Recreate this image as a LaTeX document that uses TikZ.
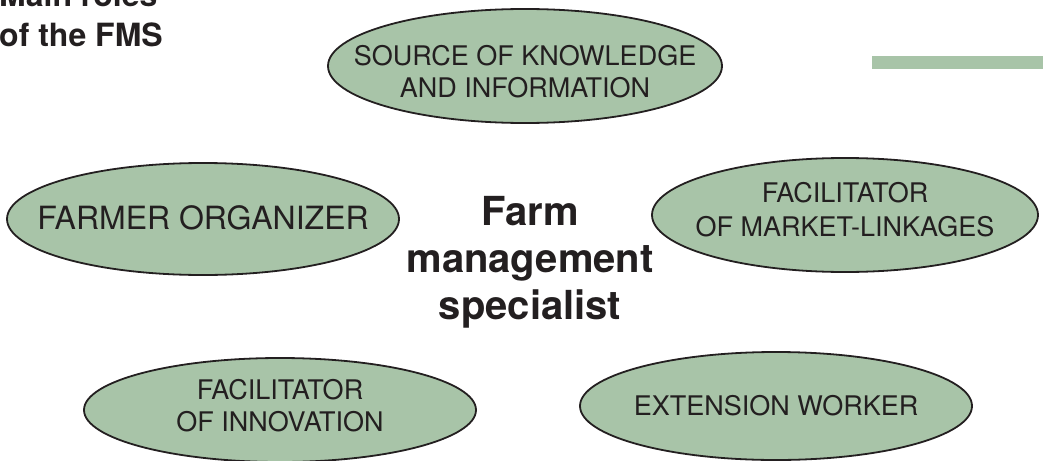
\documentclass[tikz,border=0pt]{standalone}
\usepackage{fontspec}
\setmainfont{TeX Gyre Heros}
\definecolor{sage}{HTML}{A8C4A8}
\definecolor{ink}{HTML}{231F20}
\tikzset{
  rolefill/.style={draw=ink, line width=1.8pt, fill=sage},
  roletext/.style={inner sep=0pt, align=center, text=ink,
    font=\fontsize{27}{32}\selectfont},
  titletext/.style={anchor=base west, inner sep=0pt, text=ink,
    font=\fontsize{32}{34}\selectfont\bfseries},
}
\begin{document}
\begin{tikzpicture}[x=1pt,y=-1pt]
\useasboundingbox (0,0) rectangle (1043,460);
\fill[sage] (872,56) rectangle (1043,69);
\node[titletext] (titleA) at (-1,7) {Main roles};
\node[titletext] (titleB) at (-1,47) {of the FMS};
% ellipses
\path[rolefill] (525,66) ellipse [x radius=197, y radius=57];
\path[rolefill] (203,219) ellipse [x radius=196, y radius=56];
\path[rolefill] (845,215) ellipse [x radius=193, y radius=57];
\path[rolefill] (280,410) ellipse [x radius=196, y radius=52];
\path[rolefill] (776,406) ellipse [x radius=196, y radius=54];
% texts
\node[roletext] (source) at (525,72) {SOURCE OF KNOWLEDGE\\AND INFORMATION};
\node[roletext, font=\fontsize{32}{34}\selectfont] (farmer) at (203,218) {FARMER ORGANIZER};
\node[roletext, font=\fontsize{27}{34}\selectfont] (market) at (845,210) {FACILITATOR\\OF MARKET-LINKAGES};
\node[roletext] (innov) at (280,406) {FACILITATOR\\OF INNOVATION};
\node[roletext] (ext) at (776,406) {EXTENSION WORKER};
\node[align=center, inner sep=0pt, text=ink, font=\fontsize{40}{47}\selectfont\bfseries] (fms) at (530,262) {Farm\\management\\specialist};
\end{tikzpicture}
\end{document}
